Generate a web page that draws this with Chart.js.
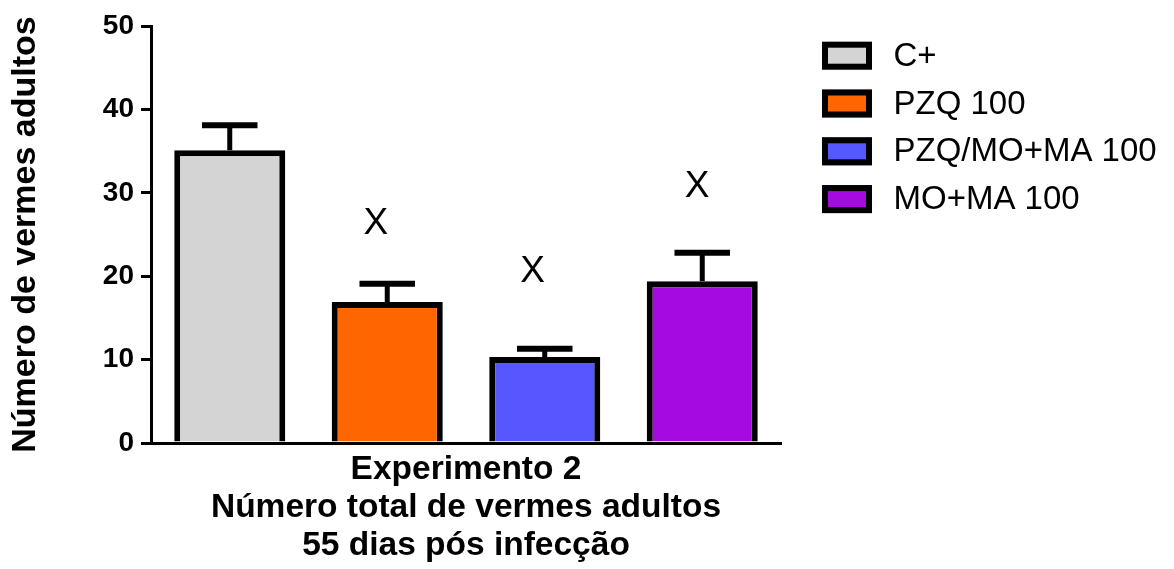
<!DOCTYPE html>
<html>
<head>
<meta charset="utf-8">
<script src="https://cdn.jsdelivr.net/npm/chart.js@4"></script>
<style>
  html, body { margin: 0; padding: 0; background: #ffffff; }
  #wrap { position: relative; width: 1174px; height: 569px; }
</style>
</head>
<body>
<div id="wrap"><canvas id="chart"></canvas></div>
<script>
// Groups and measured values (mean number of adult worms, with SEM)
const categories = ['C+', 'PZQ 100', 'PZQ/MO+MA 100', 'MO+MA 100'];
const means = [35.1, 16.9, 10.3, 19.4];
const sems = [3.0, 2.2, 1.0, 3.4];
// Significance marks above each group
const marks = ['', 'X', 'X', 'X'];
// Y axis tick values
const yTicks = [0, 10, 20, 30, 40, 50];

const barColors = ['#d4d4d4', '#ff6600', '#5757ff', '#a50ae0'];
const FONT = "'Liberation Sans', Arial, Helvetica, sans-serif";

// Height (in axis units) and horizontal nudge (px) where each mark is written
const markLayout = {
  at: [null, 26.3, 20.5, 30.7],
  dx: [0, -11.5, -12.25, -5.25]
};

// Draws the upward SEM whiskers and the significance marks
const errorBarsPlugin = {
  id: 'errorBars',
  afterDatasetsDraw(chart) {
    const ctx = chart.ctx;
    const y = chart.scales.y;
    const meta = chart.getDatasetMeta(0);
    ctx.save();
    ctx.strokeStyle = '#000';
    meta.data.forEach((bar, i) => {
      const top = y.getPixelForValue(means[i]);
      const cap = y.getPixelForValue(means[i] + sems[i]);
      const half = bar.width / 4;
      ctx.lineCap = 'butt';
      ctx.lineWidth = 5;
      ctx.beginPath();
      ctx.moveTo(bar.x, top);
      ctx.lineTo(bar.x, cap);
      ctx.stroke();
      ctx.lineWidth = 6;
      ctx.beginPath();
      ctx.moveTo(bar.x - half, cap);
      ctx.lineTo(bar.x + half, cap);
      ctx.stroke();
      if (marks[i]) {
        ctx.fillStyle = '#000';
        ctx.font = '37px ' + FONT;
        ctx.textAlign = 'center';
        ctx.textBaseline = 'middle';
        ctx.fillText(marks[i], bar.x + markLayout.dx[i], y.getPixelForValue(markLayout.at[i]));
      }
    });
    ctx.restore();
  }
};

// Key to the groups, placed to the right of the plot area
const sideLegendPlugin = {
  id: 'sideLegend',
  afterDraw(chart, args, opts) {
    const ctx = chart.ctx;
    const area = chart.chartArea;
    const border = 6;
    ctx.save();
    ctx.font = opts.fontSize + 'px ' + FONT;
    ctx.textAlign = 'left';
    ctx.textBaseline = 'middle';
    categories.forEach((name, i) => {
      const x = area.right + opts.offsetX;
      const y = area.top + opts.offsetY + i * opts.rowStep;
      ctx.fillStyle = barColors[i];
      ctx.fillRect(x, y, opts.boxW, opts.boxH);
      ctx.lineWidth = border;
      ctx.strokeStyle = '#000';
      ctx.strokeRect(x + border / 2, y + border / 2, opts.boxW - border, opts.boxH - border);
      ctx.fillStyle = '#000';
      ctx.fillText(name, x + opts.boxW + opts.textGap, y + opts.boxH / 2 + 1);
    });
    ctx.restore();
  }
};

new Chart(document.getElementById('chart'), {
  type: 'bar',
  data: {
    labels: categories,
    datasets: [{
      data: means,
      backgroundColor: barColors,
      borderColor: '#000',
      borderWidth: 6,
      borderSkipped: 'start',
      categoryPercentage: 1.0,
      barPercentage: 0.705
    }]
  },
  options: {
    responsive: true,
    maintainAspectRatio: false,
    animation: false,
    devicePixelRatio: 1,
    layout: { padding: { top: 26, right: 393, bottom: 4, left: 0 } },
    plugins: {
      tooltip: { enabled: false },
      legend: { display: false },
      sideLegend: {
        offsetX: 41, offsetY: 15.7, rowStep: 47.8,
        boxW: 50, boxH: 28, textGap: 21.5, fontSize: 33
      }
    },
    scales: {
      x: {
        type: 'category',
        offset: true,
        grid: { display: false, drawTicks: false },
        ticks: { display: false },
        border: { display: true, color: '#000', width: 3 },
        title: {
          display: true,
          text: ['Experimento 2', 'Número total de vermes adultos', '55 dias pós infecção'],
          color: '#000',
          font: { family: FONT, size: 33.5, weight: 'bold', lineHeight: 38 / 33.5 },
          padding: { top: 8, bottom: 0 }
        }
      },
      y: {
        min: 0,
        max: 50,
        afterBuildTicks(scale) {
          scale.ticks = yTicks.map(v => ({ value: v }));
        },
        afterFit(scale) { scale.width = 151; },
        grid: {
          drawOnChartArea: false,
          drawTicks: true,
          tickLength: 10,
          lineWidth: 3,
          color: '#000'
        },
        border: { display: true, color: '#000', width: 3 },
        ticks: {
          color: '#000',
          padding: 7,
          font: { family: FONT, size: 28, weight: 'bold' }
        },
        title: {
          display: true,
          text: 'Número de vermes adultos',
          color: '#000',
          font: { family: FONT, size: 34, weight: 'bold' },
          padding: { top: 5, bottom: 0 }
        }
      }
    }
  },
  plugins: [errorBarsPlugin, sideLegendPlugin]
});
</script>
</body>
</html>
